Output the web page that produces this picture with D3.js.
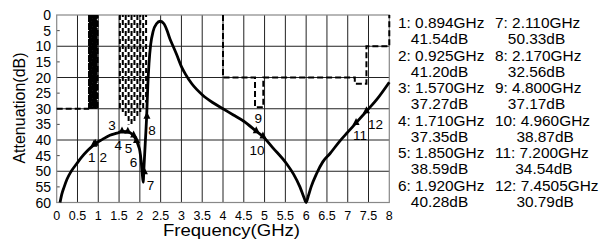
<!DOCTYPE html>
<html><head><meta charset="utf-8">
<script src="https://cdn.jsdelivr.net/npm/d3@7"></script>
<style>body{margin:0;background:#fff}svg{display:block;font-family:"Liberation Sans",Arial,sans-serif}</style>
</head><body><svg id="c" width="613" height="246"></svg>
<script>
// ---- data ----
const curveFreq = [0.08,0.12,0.18,0.25,0.35,0.48,0.6,0.75,0.894,0.925,1.1,1.28,1.45,1.57,1.71,1.8,1.85,1.92,1.97,2.0,2.03,2.06,2.08,2.1,2.13,2.165,2.19,2.22,2.26,2.32,2.4,2.49,2.58,2.65,2.72,2.8,2.88,3.0,3.1,3.25,3.5,3.75,4.0,4.25,4.5,4.8,4.96,5.2,5.53,5.7,5.85,5.95,6.0,6.05,6.12,6.25,6.4,6.57,6.8,7.0,7.2,7.4505,7.7,8.0];
const curveAtt  = [60,57.5,55,52.5,50,47.6,45.5,43.3,41.54,41.2,39.8,38.5,37.8,37.27,37.35,38,38.59,40.28,42,43.5,46.5,51,53.5,48.5,41,32,23,15.5,9.5,5.2,2.8,2.0,2.8,4.8,7.5,10,12.5,16.5,19,22,25.5,28,30,32,34,37.17,38.87,42.5,47.6,51,55,58.5,60,58,55,50.8,47,44.4,40.5,37.5,34.54,30.79,27,21.5];

const markerIds  = ["1","2","3","4","5","6","7","8","9","10","11","12"];
const markerFreq = [0.894,0.925,1.570,1.710,1.850,1.920,2.110,2.170,4.800,4.960,7.200,7.4505];
const markerAtt  = [41.54,41.20,37.27,37.35,38.59,40.28,50.33,32.56,37.17,38.87,34.54,30.79];
const legendFreqText = ["0.894GHz","0.925GHz","1.570GHz","1.710GHz","1.850GHz","1.920GHz","2.110GHz","2.170GHz","4.800GHz","4.960GHz","7.200GHz","7.4505GHz"];
const legendAttText  = ["41.54dB","41.20dB","37.27dB","37.35dB","38.59dB","40.28dB","50.33dB","32.56dB","37.17dB","38.87dB","34.54dB","30.79dB"];

const maskLowFreq = [0, 0.78];
const maskLowAtt  = [30, 30];
const band1Freq = [0.78,0.80,0.82,0.84,0.86,0.88,0.90,0.92,0.94,0.96,0.98];
const band1Depth = [30,30,30,30,30,30,30,30,30,30,30];
const band2Freq = [1.52,1.59,1.66,1.73,1.80,1.87,1.94,2.01,2.08,2.15];
const band2Depth = [30,31,33,35,35,34,33,31,30,28];
const maskHighFreq = [4.0,4.0,4.77,4.77,4.97,4.97,7.17,7.17,7.45,7.45,8.0,8.0];
const maskHighAtt  = [0,20,20,29.5,29.5,20,20,22,22,10,10,0];

const xTicks = [0,0.5,1,1.5,2,2.5,3,3.5,4,4.5,5,5.5,6,6.5,7,7.5,8];
const yTicks = [0,5,10,15,20,25,30,35,40,45,50,55,60];
const yGrid  = [10,20,30,40,50];

// ---- style / layout ----
const labelOffsets = [[-2,17],[8,18],[-10,-1],[-9.5,18],[-5,17],[-3,26],[6,18],[5,18],[2,-8],[-6,19],[4,17],[9,18]];

const svg = d3.select("#c");
const x = d3.scaleLinear().domain([0,8]).range([56.7,389.3]);
const y = d3.scaleLinear().domain([0,60]).range([15,202.5]);

// grid
svg.append("g").selectAll("line").data(xTicks.slice(1,-1)).join("line")
  .attr("x1",d=>x(d)).attr("x2",d=>x(d)).attr("y1",y(0)).attr("y2",y(60))
  .attr("stroke","#222").attr("stroke-width",1);
svg.append("g").selectAll("line").data(yGrid).join("line")
  .attr("y1",d=>y(d)).attr("y2",d=>y(d)).attr("x1",x(0)).attr("x2",x(8))
  .attr("stroke","#222").attr("stroke-width",1);
svg.append("g").selectAll("line").data(yTicks.filter(d=>d%10!==0)).join("line")
  .attr("y1",d=>y(d)).attr("y2",d=>y(d)).attr("x1",x(0)).attr("x2",x(0)+3)
  .attr("stroke","#444");
svg.append("rect").attr("x",x(0)).attr("y",y(0)).attr("width",x(8)-x(0)).attr("height",y(60)-y(0))
  .attr("fill","none").attr("stroke","#888").attr("stroke-width",1.2);

// tick labels
svg.append("g").selectAll("text").data(yTicks).join("text")
  .attr("x",51).attr("y",d=>y(d)+5).attr("text-anchor","end")
  .attr("font-size",14).text(d=>d);
svg.append("g").selectAll("text").data(xTicks).join("text")
  .attr("x",d=>x(d)).attr("y",220).attr("text-anchor","middle")
  .attr("font-size",12.5).text(d=>d);

// axis titles
svg.append("text").attr("transform","translate(25,108) rotate(-90)")
  .attr("text-anchor","middle").attr("font-size",16).text("Attenuation(dB)");
svg.append("text").attr("x",163).attr("y",236).attr("font-size",16)
  .attr("textLength",137).attr("lengthAdjust","spacingAndGlyphs").text("Frequency(GHz)");

// mask lines
const line = d3.line().x(d=>x(d[0])).y(d=>y(d[1]));
const dashStyle = sel => sel.attr("fill","none").attr("stroke","#000").attr("stroke-width",2).attr("stroke-dasharray","6,3");
svg.append("path").datum(maskLowFreq.map((f,i)=>[f,maskLowAtt[i]])).attr("d",line).call(dashStyle);
svg.append("g").selectAll("line").data(band1Freq).join("line")
  .attr("x1",d=>x(d)).attr("x2",d=>x(d)).attr("y1",y(0)).attr("y2",(d,i)=>y(band1Depth[i]))
  .attr("stroke","#000").attr("stroke-width",2.2)
  .attr("stroke-dasharray",(d,i)=> i===band1Freq.length-1 ? "6,3" : "7,1")
  .attr("stroke-dashoffset",(d,i)=>i*3);
svg.append("g").selectAll("line").data(band2Freq).join("line")
  .attr("x1",d=>x(d)).attr("x2",d=>x(d)).attr("y1",y(0)).attr("y2",(d,i)=>y(band2Depth[i]))
  .attr("stroke","#000").attr("stroke-width",2).attr("stroke-dasharray","5,3")
  .attr("stroke-dashoffset",(d,i)=>(i%2)*3);
svg.append("path").datum(maskHighFreq.map((f,i)=>[f,maskHighAtt[i]])).attr("d",line).call(dashStyle);

// main curve
svg.append("path").datum(curveFreq.map((f,i)=>[f,curveAtt[i]]))
  .attr("d",line.curve(d3.curveMonotoneX)).attr("fill","none")
  .attr("stroke","#000").attr("stroke-width",2.8).attr("stroke-linejoin","round");

// markers
const mk = svg.append("g");
markerFreq.forEach((f,i)=>{
  const px = x(f), py = y(markerAtt[i]);
  mk.append("path").attr("d",`M${px},${py-5}L${px-3.5},${py+2}L${px+3.5},${py+2}Z`).attr("fill","#000");
  mk.append("text").attr("x",px+labelOffsets[i][0]).attr("y",py+labelOffsets[i][1])
    .attr("text-anchor","middle").attr("font-size",13.5).text(markerIds[i]);
});

// legend
const lg = svg.append("g").attr("font-size",14);
const colX = [398,495];
markerIds.forEach((id,i)=>{
  const col = Math.floor(i/6), row = i%6;
  const x0 = colX[col], y0 = 28 + row*2*16.25;
  lg.append("text").attr("transform",`translate(${x0},${y0}) scale(1.1,1)`).text(id+": "+legendFreqText[i]);
  const tmp = lg.append("text").text(id+": ");
  const w = tmp.node().getComputedTextLength()*1.1; tmp.remove();
  lg.append("text").attr("transform",`translate(${x0+w},${y0+16.25}) scale(1.1,1)`).text(legendAttText[i]);
});
</script></body></html>
